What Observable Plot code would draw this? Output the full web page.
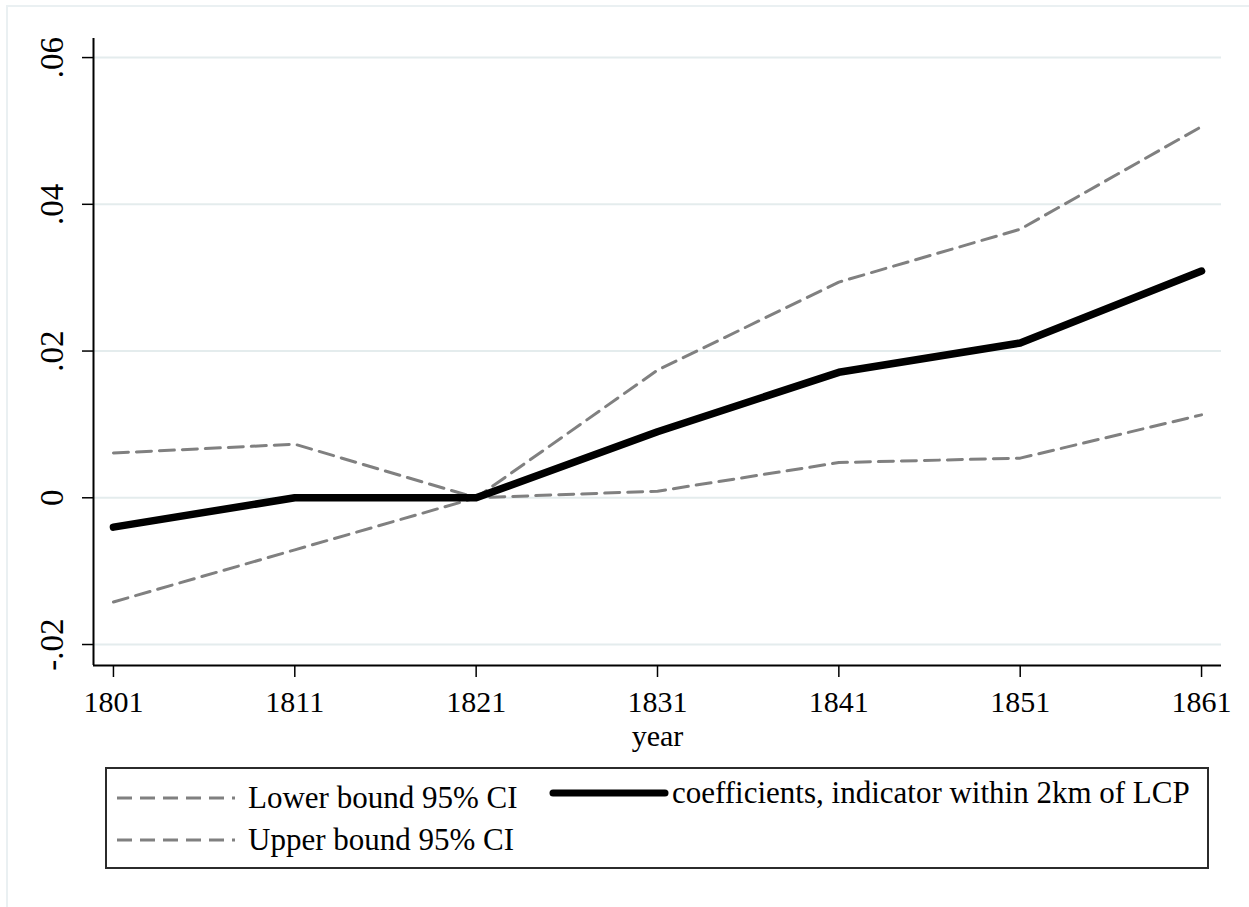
<!DOCTYPE html>
<html>
<head>
<meta charset="utf-8">
<script src="https://cdn.jsdelivr.net/npm/d3@7"></script>
<script src="https://cdn.jsdelivr.net/npm/@observablehq/plot@0.6"></script>
<style>
  html, body { margin: 0; padding: 0; background: #fff; }
  #wrap { position: relative; width: 1249px; height: 907px; overflow: hidden; font-family: "Liberation Serif", "Times New Roman", serif; }
  #frame { position: absolute; left: 6px; top: 5px; width: 1260px; height: 920px; border-top: 2px solid #eaf0f2; border-left: 2px solid #eaf0f2; }
  #chart { position: absolute; left: 0; top: 0; }
  #legend { position: absolute; left: 105px; top: 767px; width: 1100px; height: 98px; border: 2px solid #2b2b2b; background: #fff; }
  .item { position: absolute; display: flex; align-items: center; font-size: 31px; color: #000; white-space: nowrap; font-family: "Liberation Serif", "Times New Roman", serif; }
  .item svg { display: block; }
</style>
</head>
<body>
<div id="wrap">
  <div id="frame"></div>
  <div id="chart"></div>
  <div id="legend"></div>
</div>
<script>
const years = [1801, 1811, 1821, 1831, 1841, 1851, 1861];
const coef  = [-0.0040, 0.0000, 0.0000, 0.0090, 0.0171, 0.0211, 0.0309];
const upper = [0.0061, 0.0073, 0.0000, 0.0174, 0.0294, 0.0366, 0.0506];
const lower = [-0.0142, -0.0071, 0.0000, 0.0009, 0.0048, 0.0054, 0.0113];
const yTickValues = [0.06, 0.04, 0.02, 0, -0.02];
const yTickLabels = [".06", ".04", ".02", "0", "-.02"];
const xAxisTitle = "year";
const legendLabels = ["Lower bound 95% CI", "Upper bound 95% CI", "coefficients, indicator within 2km of LCP"];

const toRows = (vals) => years.map((y, i) => ({year: y, value: vals[i]}));
const coefRows = toRows(coef), upperRows = toRows(upper), lowerRows = toRows(lower);
const yLabelMap = new Map(yTickValues.map((v, i) => [v, yTickLabels[i]]));

const ciStyle = {x: "year", y: "value", stroke: "#808080", strokeWidth: 3, strokeDasharray: "15,8"};
const serif = "'Liberation Serif', 'Times New Roman', serif";

const plot = Plot.plot({
  width: 1249,
  height: 760,
  marginLeft: 93,
  marginRight: 28,
  marginTop: 38,
  marginBottom: 95,
  style: {fontFamily: serif, fontSize: "30px", color: "#000", background: "transparent"},
  x: {domain: [1799.9, 1862.1]},
  y: {domain: [-0.02286, 0.0626]},
  marks: [
    Plot.gridY(yTickValues, {stroke: "#e4eced", strokeOpacity: 1, strokeWidth: 2}),
    Plot.line(lowerRows, ciStyle),
    Plot.line(upperRows, ciStyle),
    Plot.line(coefRows, {x: "year", y: "value", stroke: "#000", strokeWidth: 7.5, strokeLinecap: "round", strokeLinejoin: "round"}),
    Plot.axisY({ticks: yTickValues, tickFormat: d => yLabelMap.get(d), tickSize: 11, tickRotate: -90, tickPadding: 20, fontSize: 33, label: null, stroke: "#000", strokeWidth: 1.5}),
    Plot.axisX({ticks: years, tickFormat: d => String(d), tickSize: 12, tickPadding: 13, label: null, stroke: "#000", strokeWidth: 1.5}),
    Plot.text([xAxisTitle], {text: d => d, frameAnchor: "bottom", lineAnchor: "bottom", dy: 80, fontSize: 30}),
    Plot.ruleX([1799.9], {stroke: "#000", strokeWidth: 2}),
    Plot.ruleY([-0.02286], {stroke: "#000", strokeWidth: 2})
  ]
});
document.getElementById("chart").appendChild(plot);

// Legend
const legend = document.getElementById("legend");
function addItem(label, left, top, sampleWidth, dashed) {
  const div = document.createElement("div");
  div.className = "item";
  div.style.left = left + "px";
  div.style.top = top + "px";
  const ns = "http://www.w3.org/2000/svg";
  const svg = document.createElementNS(ns, "svg");
  svg.setAttribute("width", sampleWidth);
  svg.setAttribute("height", 14);
  const line = document.createElementNS(ns, "line");
  line.setAttribute("x1", dashed ? 2 : 5);
  line.setAttribute("x2", sampleWidth - (dashed ? 2 : 5));
  line.setAttribute("y1", 7);
  line.setAttribute("y2", 7);
  line.setAttribute("stroke", dashed ? "#808080" : "#000");
  line.setAttribute("stroke-width", dashed ? 3 : 7);
  if (dashed) line.setAttribute("stroke-dasharray", "15,8");
  else line.setAttribute("stroke-linecap", "round");
  svg.appendChild(line);
  div.appendChild(svg);
  const span = document.createElement("span");
  span.textContent = label;
  span.style.marginLeft = (dashed ? 11 : 2) + "px";
  div.appendChild(span);
  legend.appendChild(div);
}
addItem(legendLabels[0], 8, 11, 122, true);
addItem(legendLabels[1], 8, 53, 122, true);
addItem(legendLabels[2], 441, 6, 122, false);
</script>
</body>
</html>
